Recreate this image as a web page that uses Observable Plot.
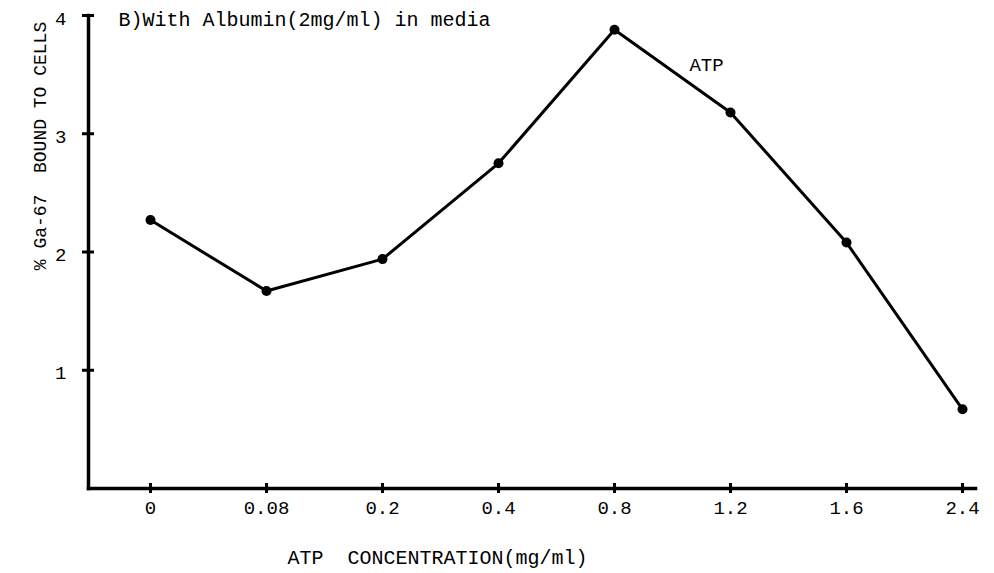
<!DOCTYPE html>
<html>
<head>
<meta charset="utf-8">
<script src="https://cdn.jsdelivr.net/npm/d3@7"></script>
<script src="https://cdn.jsdelivr.net/npm/@observablehq/plot@0.6"></script>
<style>
  html, body { margin: 0; padding: 0; background: white; }
  svg text { white-space: pre; }
</style>
</head>
<body>
<div id="chart"></div>
<script>
const categories = ["0", "0.08", "0.2", "0.4", "0.8", "1.2", "1.6", "2.4"];
const values = [2.27, 1.67, 1.94, 2.75, 3.88, 3.18, 2.08, 0.67];
const yTicks = [1, 2, 3, 4];
const title = "B)With Albumin(2mg/ml) in media";
const xLabel = "ATP  CONCENTRATION(mg/ml)";
const yLabel = "% Ga-67  BOUND TO CELLS";
const seriesLabel = "ATP";

const data = categories.map((c, i) => ({c, v: values[i]}));

const chart = Plot.plot({
  width: 994,
  height: 573,
  marginLeft: 88,
  marginRight: 19,
  marginTop: 15,
  marginBottom: 85,
  style: {fontFamily: "'Liberation Mono', 'DejaVu Sans Mono', monospace", background: "white", color: "black"},
  x: {type: "point", domain: categories, range: [150, 962], padding: 0},
  y: {domain: [0, 4], range: [488, 15]},
  marks: [
    Plot.frame({anchor: "left", strokeWidth: 3.5}),
    Plot.frame({anchor: "bottom", strokeWidth: 3.5}),
    Plot.axisY({ticks: yTicks, text: null, tickSize: 12, dx: 6, strokeWidth: 3, label: null}),
    Plot.axisY({ticks: yTicks, tickSize: 0, tickPadding: 22, fontSize: 19, label: null, tickFormat: d => String(d), dy: 3}),
    Plot.axisX({text: null, tickSize: 10, dy: -5, strokeWidth: 3, label: null}),
    Plot.axisX({tickSize: 0, tickPadding: 12, fontSize: 19, label: null}),
    Plot.lineY(data, {x: "c", y: "v", strokeWidth: 3, stroke: "black"}),
    Plot.dot(data, {x: "c", y: "v", r: 5, fill: "black"}),
    Plot.text([seriesLabel], {x: () => "1.2", y: () => 3.58, text: d => d, dx: -24, fontSize: 19}),
    Plot.text([title], {frameAnchor: "top-left", text: d => d, textAnchor: "start", lineAnchor: "middle", dx: 30, dy: 4, fontSize: 20}),
    Plot.text([xLabel], {frameAnchor: "bottom", text: d => d, textAnchor: "middle", lineAnchor: "middle", dx: -94.5, dy: 69, fontSize: 20}),
    Plot.text([yLabel], {frameAnchor: "left", text: d => d, textAnchor: "middle", rotate: -90, lineAnchor: "middle", dx: -48, dy: -106, fontSize: 18})
  ]
});
document.getElementById("chart").appendChild(chart);
</script>
</body>
</html>
